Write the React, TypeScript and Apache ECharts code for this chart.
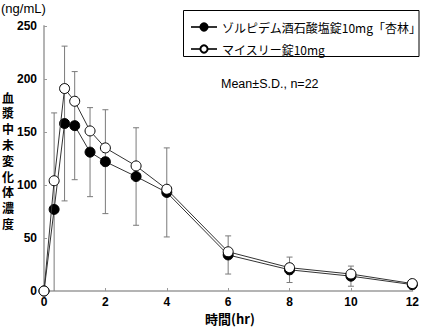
import React, { useEffect, useRef } from "react";
import * as echarts from "echarts";

const times = [0, 0.33, 0.67, 1, 1.5, 2, 3, 4, 6, 8, 10, 12];
const kyorin = [0, 77, 158, 156, 131, 122, 108, 93, 34, 20, 14, 6];
const kyorinSD = [0, 91, 73, 51, 42, 49, 46, 42, 18, 12, 9.5, 4];
const myslee = [0, 104, 191, 179, 151, 135, 118, 96, 37, 22, 16, 7];
const seriesNames = ["ゾルピデム酒石酸塩錠10mg「杏林」", "マイスリー錠10mg"];
const xTicks = [0, 2, 4, 6, 8, 10, 12];
const yTicks = [0, 50, 100, 150, 200, 250];
const yTitle = "血漿中未変化体濃度";
const xTitle = "時間(hr)";
const unitLabel = "(ng/mL)";
const note = "Mean±S.D., n=22";

const JP = '"Noto Sans CJK JP", "Noto Sans", sans-serif';
const LAT = '"Liberation Sans", Arial, sans-serif';

export default function App() {
  const ref = useRef<HTMLDivElement>(null);
  useEffect(() => {
    if (!ref.current) return;
    const chart = echarts.init(ref.current, undefined, { renderer: "svg" });
    const errData = times
      .map((t, i) => [t, kyorin[i] - kyorinSD[i], kyorin[i] + kyorinSD[i]])
      .filter((d, i) => kyorinSD[i] > 0);
    const yChars = yTitle.split("").map((ch, i) => ({
      type: "text",
      x: 8,
      y: 97 + i * 15.8,
      style: {
        text: ch,
        fontSize: 12,
        fontWeight: "bold",
        fontFamily: JP,
        fill: "#000",
        textAlign: "center",
        textVerticalAlign: "middle",
      },
    }));
    chart.setOption({
      animation: false,
      backgroundColor: "#fff",
      grid: { left: 44, right: 6, top: 26, bottom: 37 },
      xAxis: {
        type: "value",
        min: xTicks[0],
        max: xTicks[xTicks.length - 1],
        interval: 2,
        axisLine: { lineStyle: { color: "#b4b4b4", width: 2 } },
        axisTick: { inside: true, length: 3, lineStyle: { color: "#9a9a9a", width: 1 } },
        axisLabel: { margin: 5, fontSize: 12, fontWeight: "bold", color: "#000", fontFamily: LAT },
        splitLine: { show: false },
      },
      yAxis: {
        type: "value",
        min: yTicks[0],
        max: yTicks[yTicks.length - 1],
        interval: 50,
        axisLine: { show: true, lineStyle: { color: "#b4b4b4", width: 2 } },
        axisTick: { show: true, inside: true, length: 3, lineStyle: { color: "#9a9a9a", width: 1 } },
        axisLabel: { margin: 7, fontSize: 12, fontWeight: "bold", color: "#000", fontFamily: LAT },
        splitLine: { show: false },
      },
      legend: {
        left: 185,
        top: 16,
        orient: "vertical",
        itemWidth: 26,
        itemHeight: 9,
        itemGap: 10,
        data: seriesNames,
        textStyle: { fontSize: 12, color: "#000", fontFamily: JP },
      },
      graphic: [
        {
          type: "rect",
          shape: { x: 183.5, y: 10.5, width: 235.5, height: 46 },
          style: { fill: "none", stroke: "#000", lineWidth: 1 },
          z: 0,
        },
        {
          type: "text",
          x: 221,
          y: 84,
          style: { text: note, fontSize: 12.5, fontFamily: LAT, fill: "#000", textVerticalAlign: "middle" },
        },
        {
          type: "text",
          x: 1,
          y: 8,
          style: { text: unitLabel, fontSize: 13, fontFamily: LAT, fill: "#000", textVerticalAlign: "middle" },
        },
        {
          type: "text",
          x: 230,
          y: 318,
          style: {
            text: xTitle,
            fontSize: 13,
            fontWeight: "bold",
            fontFamily: JP,
            fill: "#000",
            textAlign: "center",
            textVerticalAlign: "middle",
          },
        },
        ...yChars,
      ],
      series: [
        {
          type: "custom",
          name: "sd",
          z: 1,
          silent: true,
          data: errData,
          encode: { x: 0, y: [1, 2] },
          renderItem: (params: any, api: any) => {
            const x = api.value(0);
            const lo = api.value(1);
            const hi = api.value(2);
            const top = api.coord([x, hi]);
            const bot = api.coord([x, Math.max(lo, 0)]);
            const st = { stroke: "#7a7a7a", lineWidth: 1 };
            const children: any[] = [
              { type: "line", shape: { x1: top[0], y1: top[1], x2: bot[0], y2: bot[1] }, style: st },
              { type: "line", shape: { x1: top[0] - 3, y1: top[1], x2: top[0] + 3, y2: top[1] }, style: st },
            ];
            if (lo > 0) {
              children.push({
                type: "line",
                shape: { x1: bot[0] - 3, y1: bot[1], x2: bot[0] + 3, y2: bot[1] },
                style: st,
              });
            }
            return { type: "group", children };
          },
        },
        {
          type: "line",
          name: seriesNames[0],
          z: 3,
          data: times.map((t, i) => [t, kyorin[i]]),
          symbol: "circle",
          symbolSize: 10,
          lineStyle: { color: "#333", width: 1 },
          itemStyle: { color: "#000", borderColor: "#000", borderWidth: 1 },
        },
        {
          type: "line",
          name: seriesNames[1],
          z: 4,
          data: times.map((t, i) => [t, myslee[i]]),
          symbol: "circle",
          symbolSize: 10,
          lineStyle: { color: "#333", width: 1 },
          itemStyle: { color: "#fff", borderColor: "#000", borderWidth: 1 },
        },
      ],
    });
    return () => chart.dispose();
  }, []);
  return (
    <div
      ref={ref}
      style={{ position: "fixed", left: 0, top: 0, width: 422, height: 328, background: "#fff" }}
    />
  );
}
